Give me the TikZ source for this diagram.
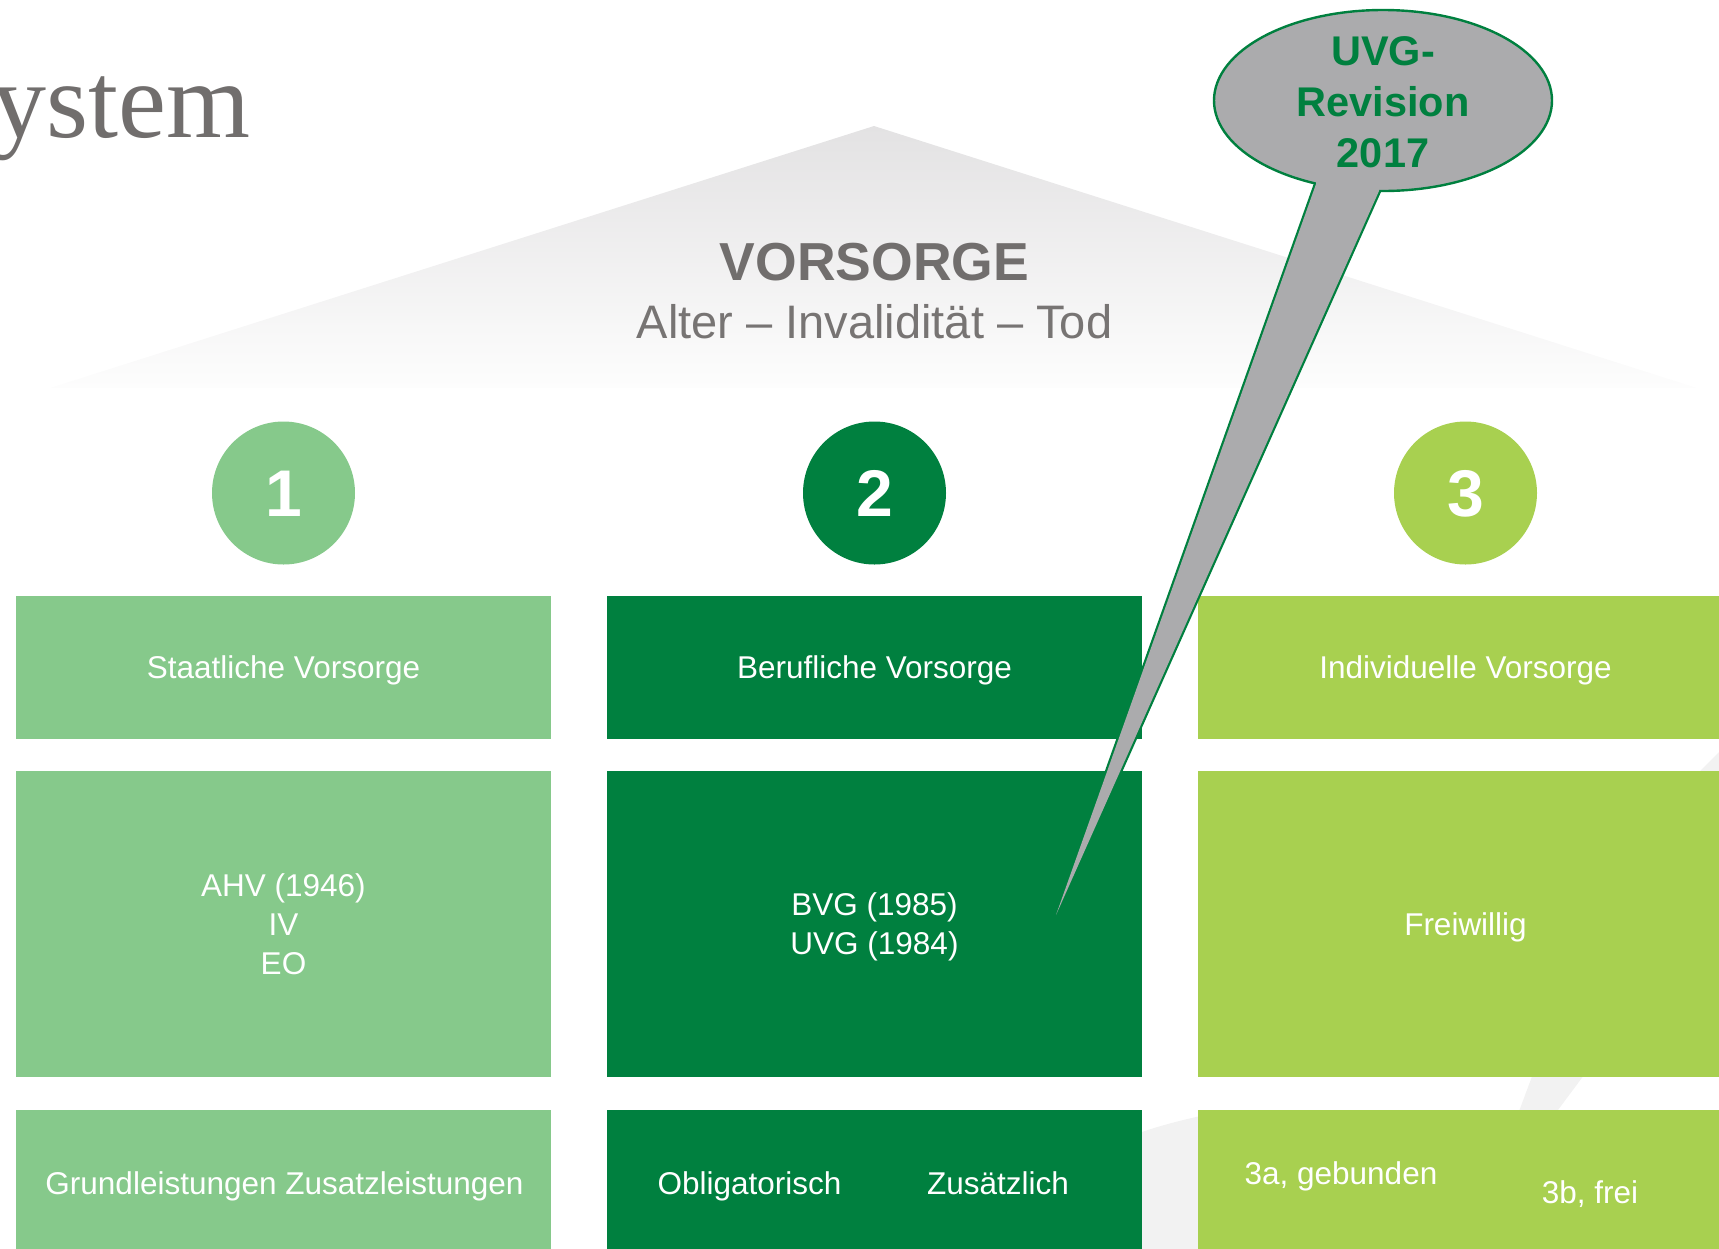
\documentclass[tikz,border=0pt]{standalone}
\usepackage{fontspec}
\setmainfont{Liberation Sans}
\newfontfamily\titleserif{Liberation Serif}
\usetikzlibrary{shapes.geometric}
\definecolor{gA}{HTML}{86C98B}
\definecolor{gB}{HTML}{00803F}
\definecolor{gC}{HTML}{A8D050}
\definecolor{txtgray}{HTML}{716E6D}
\definecolor{subgray}{HTML}{777473}
\definecolor{bubblegray}{HTML}{ABABAD}
\definecolor{swoosh}{HTML}{F2F2F2}
\definecolor{rooftop}{HTML}{E3E2E3}
\definecolor{roofbot}{HTML}{FDFDFD}
\begin{document}
\begin{tikzpicture}[x=1pt,y=-1pt,
  colbox/.style={rectangle, inner sep=0pt, minimum width=535pt, text=white,
    font=\fontsize{31.5}{39}\selectfont, align=center},
  oneline/.style={text height=22.6pt, text depth=0pt},
  lbl/.style={text=white, font=\fontsize{31.5}{39}\selectfont, inner sep=0pt, anchor=base},
  numcirc/.style={circle, inner sep=0pt, minimum size=143pt, text=white,
    font=\bfseries\fontsize{66}{66}\selectfont, text height=47.3pt, text depth=0pt},
]
\useasboundingbox (0,0) rectangle (1719,1248);
\clip (0,0) rectangle (1719,1248);

% faint background swoosh pieces
\fill[swoosh] (1120,1140) .. controls (1150,1128) and (1180,1120) .. (1215,1113) -- (1215,1260) -- (1120,1260) -- cycle;
\fill[swoosh] (1512,1130) -- (1540,1055) -- (1599,1055) -- (1543,1130) -- cycle;
\fill[swoosh] (1681,790) -- (1740,731) -- (1740,790) -- cycle;

% roof
\shade[top color=rooftop, bottom color=roofbot] (874,126) -- (1697,388) -- (50,388) -- cycle;

% title
\node[font=\titleserif\fontsize{108}{108}\selectfont, text=txtgray, anchor=base east, inner sep=0pt] (title) at (251,137) {ystem};

% roof texts
\node[font=\bfseries\fontsize{53.5}{60}\selectfont, text=txtgray, anchor=base, inner sep=0pt] (vorsorge) at (874.5,280) {VORSORGE};
\node[font=\fontsize{47}{54}\selectfont, text=subgray, anchor=base, inner sep=0pt] (risks) at (874.5,338) {Alter -- Invalidität -- Tod};

% pillar numbers
\node[numcirc, fill=gA] (n1) at (283.5,493) {1};
\node[numcirc, fill=gB] (n2) at (874.5,493) {2};
\node[numcirc, fill=gC] (n3) at (1465.5,493) {3};

% row 1
\node[colbox, oneline, fill=gA, minimum height=143pt] (s1) at (283.5,667.5) {Staatliche Vorsorge};
\node[colbox, oneline, fill=gB, minimum height=143pt] (b1) at (874.5,667.5) {Berufliche Vorsorge};
\node[colbox, oneline, fill=gC, minimum height=143pt] (i1) at (1465.5,667.5) {Individuelle Vorsorge};

% row 2
\node[colbox, text depth=0pt, fill=gA, minimum height=306pt] (s2) at (283.5,924) {AHV (1946)\\IV\\EO};
\node[colbox, text depth=0pt, fill=gB, minimum height=306pt] (b2) at (874.5,924) {BVG (1985)\\UVG (1984)};
\node[colbox, oneline, fill=gC, minimum height=306pt] (i2) at (1465.5,924) {Freiwillig};

% row 3
\node[colbox, fill=gA, minimum height=150pt] (s3) at (283.5,1185) {};
\node[colbox, fill=gB, minimum height=150pt] (b3) at (874.5,1185) {};
\node[colbox, fill=gC, minimum height=150pt] (i3) at (1465.5,1185) {};
\node[lbl] (grund) at (284.5,1194) {Grundleistungen Zusatzleistungen};
\node[lbl] (oblig) at (749.5,1194) {Obligatorisch};
\node[lbl] (zusatz) at (998,1194) {Zusätzlich};
\node[lbl] (drei-a) at (1341,1184.5) {3a, gebunden};
\node[lbl] (drei-b) at (1590,1203) {3b, frei};

% speech bubble
\node[ellipse, inner sep=0pt, minimum width=338pt, minimum height=181pt,
      fill=bubblegray, draw=gB, line width=2.4pt] (bubble) at (1383,100.5) {};
\coordinate (tailL) at (1316,184);
\coordinate (tailR) at (1379,191);
\coordinate (tip) at (1056,915);
\draw[gB, line width=4.4pt, line join=bevel] (tailL) -- (tip) -- (tailR);
\fill[bubblegray] (tailL) -- (tip) -- (tailR) -- (1379,160) -- (1316,160) -- cycle;
\node[font=\bfseries\fontsize{41.5}{51}\selectfont, text=gB, align=center, inner sep=0pt] (bubbletext) at (1383,102) {UVG-\\Revision\\2017};
\end{tikzpicture}
\end{document}
